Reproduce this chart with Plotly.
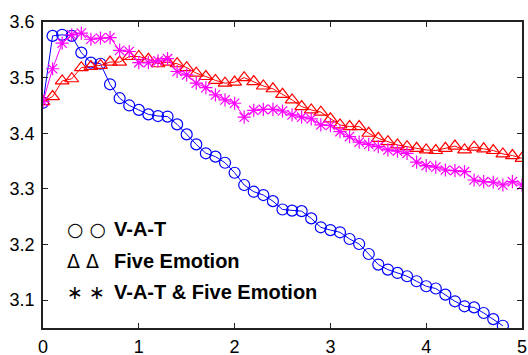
import plotly.graph_objects as go

x_vat = [round(i * 0.1, 1) for i in range(49)]
x_full = [round(i * 0.1, 1) for i in range(51)]

vat = [3.455, 3.575, 3.577, 3.575, 3.545, 3.527, 3.525, 3.488, 3.463, 3.450,
       3.442, 3.434, 3.431, 3.430, 3.416, 3.398, 3.380, 3.364, 3.358, 3.347,
       3.329, 3.307, 3.295, 3.289, 3.278, 3.263, 3.261, 3.260, 3.247, 3.231,
       3.226, 3.222, 3.210, 3.201, 3.183, 3.164, 3.155, 3.149, 3.143, 3.134,
       3.125, 3.121, 3.110, 3.098, 3.089, 3.087, 3.077, 3.066, 3.054]

five = [3.457, 3.466, 3.494, 3.498, 3.518, 3.520, 3.522, 3.528, 3.528, 3.538,
        3.538, 3.533, 3.525, 3.528, 3.525, 3.518, 3.508, 3.502, 3.495, 3.490,
        3.492, 3.500, 3.493, 3.485, 3.480, 3.470, 3.460, 3.448, 3.442, 3.438,
        3.426, 3.415, 3.412, 3.412, 3.400, 3.391, 3.385, 3.379, 3.376, 3.373,
        3.370, 3.369, 3.373, 3.377, 3.370, 3.375, 3.372, 3.369, 3.363, 3.360,
        3.355]

both = [3.457, 3.516, 3.562, 3.577, 3.580, 3.569, 3.571, 3.572, 3.549, 3.547,
        3.527, 3.527, 3.530, 3.534, 3.511, 3.505, 3.490, 3.482, 3.469, 3.460,
        3.454, 3.429, 3.441, 3.443, 3.443, 3.440, 3.433, 3.429, 3.426, 3.415,
        3.414, 3.403, 3.394, 3.384, 3.380, 3.376, 3.370, 3.368, 3.364, 3.348,
        3.342, 3.339, 3.334, 3.333, 3.331, 3.316, 3.313, 3.312, 3.307, 3.313,
        3.307]

x_ticks = [0, 1, 2, 3, 4, 5]
y_ticks = [3.1, 3.2, 3.3, 3.4, 3.5, 3.6]

legend_rows = [("○ ○", "V-A-T"), ("Δ Δ", "Five Emotion"), ("∗ ∗", "V-A-T & Five Emotion")]

fig = go.Figure()
fig.add_trace(go.Scatter(x=x_vat, y=vat, mode="lines+markers", name="V-A-T",
                         line=dict(color="#0000FF", width=1),
                         marker=dict(symbol="circle-open", size=11, color="#0000FF",
                                     line=dict(width=1.2, color="#0000FF"))))
fig.add_trace(go.Scatter(x=x_full, y=five, mode="lines+markers", name="Five Emotion",
                         line=dict(color="#FF0000", width=1),
                         marker=dict(symbol="triangle-up-open", size=12, color="#FF0000",
                                     line=dict(width=1.2, color="#FF0000"))))
fig.add_trace(go.Scatter(x=x_full, y=both, mode="lines+markers", name="V-A-T & Five Emotion",
                         line=dict(color="#FF00FF", width=1),
                         marker=dict(symbol="asterisk-open", size=11, color="#FF00FF",
                                     line=dict(width=1.2, color="#FF00FF"))))

row_y = [0.325, 0.22, 0.119]
for (sym, lab), yy in zip(legend_rows, row_y):
    fig.add_annotation(xref="paper", yref="paper", x=0.046, y=yy, xanchor="left",
                       yanchor="middle", showarrow=False, text=sym,
                       font=dict(family="DejaVu Sans", size=19, color="black"))
    fig.add_annotation(xref="paper", yref="paper", x=0.144, y=yy, xanchor="left",
                       yanchor="middle", showarrow=False, text="<b>" + lab + "</b>",
                       font=dict(family="Liberation Sans, Arial", size=20, color="black"))

axis_common = dict(showline=True, linecolor="#222222", linewidth=1.5, mirror="ticks",
                   ticks="inside", ticklen=5, tickcolor="#222222", showgrid=False,
                   zeroline=False, automargin=False, ticklabeloverflow="allow",
                   tickfont=dict(family="Liberation Sans, Arial", size=18, color="black"))

fig.update_layout(
    width=528, height=355,
    margin=dict(l=43, r=6, t=22, b=27),
    paper_bgcolor="white", plot_bgcolor="white",
    showlegend=False,
    xaxis=dict(range=[0, 5], tickvals=x_ticks, ticktext=[str(v) for v in x_ticks],
               ticklabelstandoff=2, **axis_common),
    yaxis=dict(range=[3.05, 3.6], tickvals=y_ticks, ticktext=[f"{v:.1f}" for v in y_ticks],
               ticklabelstandoff=3, **axis_common),
)

fig.write_html("out.html", config={"displayModeBar": False},
               post_script="document.body.style.margin='0px';document.body.style.overflow='hidden';")
